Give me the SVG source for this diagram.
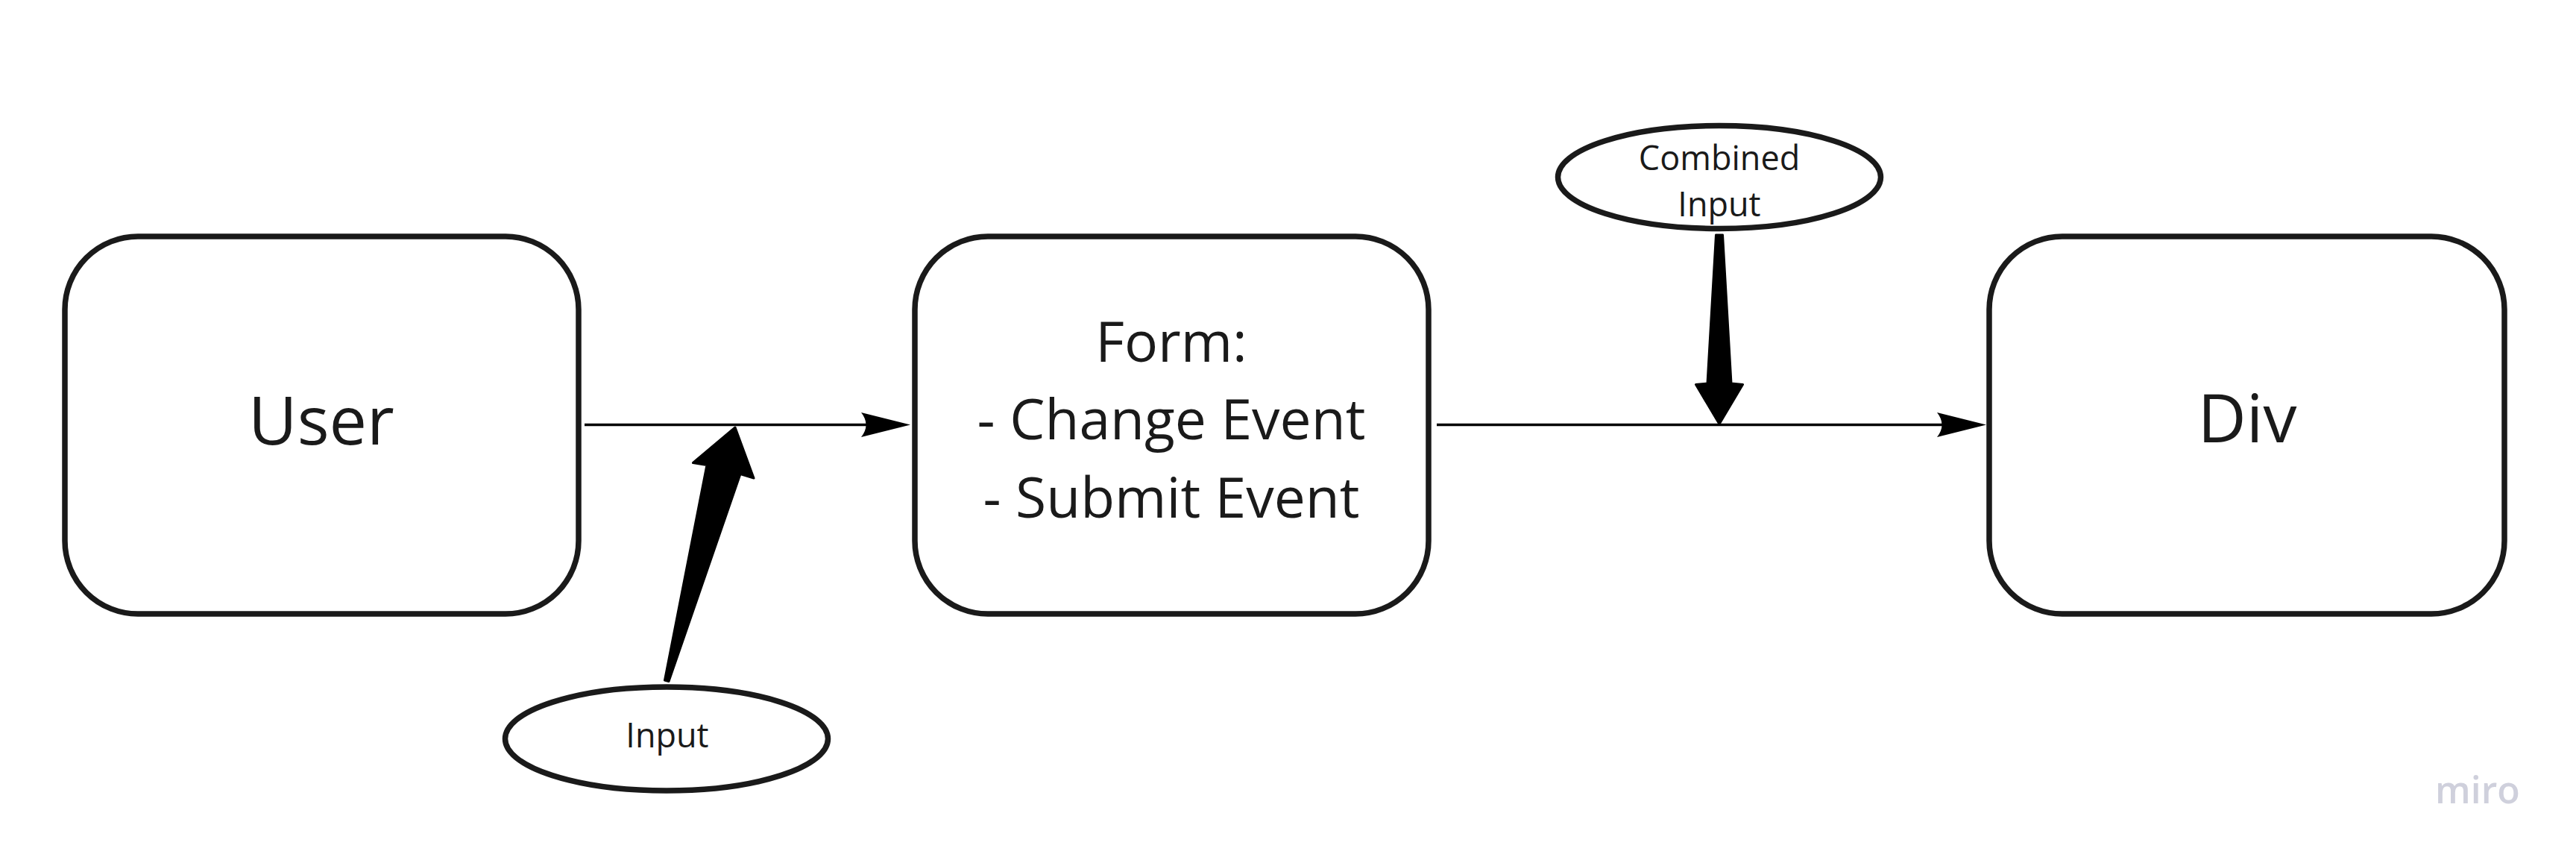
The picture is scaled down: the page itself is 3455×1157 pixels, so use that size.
<svg xmlns="http://www.w3.org/2000/svg" width="3455" height="1157" viewBox="0 0 3455 1157">
  <style>
    .box { fill: #ffffff; stroke: #1a1a1a; stroke-width: 7.5; }
    .oval { fill: #ffffff; stroke: #1a1a1a; stroke-width: 7.5; }
    .big { font-family: "Open Sans", "Liberation Sans", sans-serif; font-size: 90px; fill: #1a1a1a; text-anchor: middle; }
    .mid { font-family: "Open Sans", "Liberation Sans", sans-serif; font-size: 75px; fill: #1a1a1a; text-anchor: middle; }
    .small { font-family: "Open Sans", "Liberation Sans", sans-serif; font-size: 45px; fill: #1a1a1a; text-anchor: middle; }
    .line { stroke: #000000; stroke-width: 3.3; fill: none; }
    .head { fill: #000000; }
    .thick { fill: #000000; stroke: #000000; stroke-width: 3; stroke-linejoin: round; }
    .brand { font-family: "Open Sans", "Liberation Sans", sans-serif; font-size: 50px; font-weight: 600; fill: #cfd0dc; }
  </style>
  <defs>
    <path id="ah" d="M0,0 L-66,-16.5 Q-53,0 -66,16.5 Z"/>
  </defs>
  <rect x="0" y="0" width="3455" height="1157" fill="#ffffff"/>

  <g id="connectors">
    <line class="line" x1="784" y1="569.5" x2="1175" y2="569.5"/>
    <use href="#ah" class="head" x="1221" y="569.5"/>
    <line class="line" x1="1927" y1="569.5" x2="2618" y2="569.5"/>
    <use href="#ah" class="head" x="2664" y="569.5"/>
    <polygon class="thick" points="891.5,912 948,623.5 929.5,620.5 986,573 1011,641 993,635.5 897,913.5"/>
    <polygon class="thick" points="2301.5,315 2290,514 2274.5,515.5 2306,568.5 2337.5,515.5 2322,514 2310.5,315"/>
  </g>

  <g id="node-user">
    <rect class="box" x="87" y="317" width="689" height="506" rx="98" ry="98"/>
    <text class="big" x="431" y="596">User</text>
  </g>

  <g id="node-form">
    <rect class="box" x="1227" y="317" width="689" height="506" rx="98" ry="98"/>
    <text class="mid" x="1571" y="485">Form:</text>
    <text class="mid" x="1571" y="589">- Change Event</text>
    <text class="mid" x="1571" y="694">- Submit Event</text>
  </g>

  <g id="node-div">
    <rect class="box" x="2668" y="317" width="691" height="506" rx="98" ry="98"/>
    <text class="big" x="3014" y="593">Div</text>
  </g>

  <g id="node-input">
    <ellipse class="oval" cx="894" cy="990.5" rx="216.5" ry="69.5"/>
    <text class="small" x="895" y="1002">Input</text>
  </g>

  <g id="node-combined-input">
    <ellipse class="oval" cx="2306" cy="237.5" rx="216.5" ry="69"/>
    <text class="small" x="2306" y="228">Combined</text>
    <text class="small" x="2306" y="290">Input</text>
  </g>

  <text class="brand" x="3266" y="1077">miro</text>
</svg>
